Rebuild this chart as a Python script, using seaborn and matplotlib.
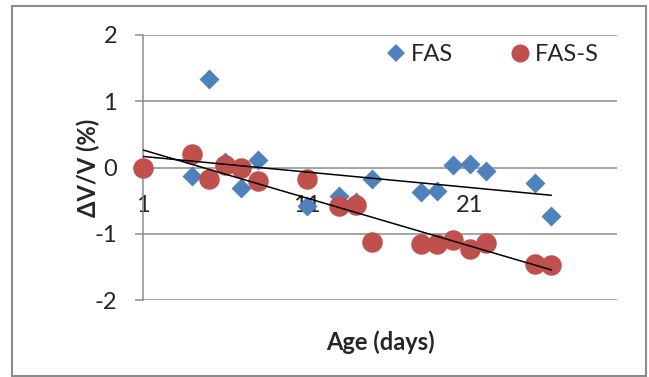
import numpy as np
import pandas as pd
import matplotlib
matplotlib.use("Agg")
import matplotlib.pyplot as plt
import seaborn as sns
from matplotlib.lines import Line2D
from matplotlib.patches import Rectangle

# Age of the specimens (days) and relative change in volume (%)
days = [1, 4, 5, 6, 7, 8, 11, 13, 14, 15, 18, 19, 20, 21, 22, 25, 26]
fas = [0.00, -0.13, 1.33, 0.08, -0.31, 0.11, -0.58, -0.43, -0.52, -0.18,
       -0.37, -0.36, 0.04, 0.05, -0.05, -0.23, -0.73]
fas_s = [0.00, 0.20, -0.17, 0.04, -0.01, -0.21, -0.17, -0.58, -0.57, -1.13,
         -1.16, -1.16, -1.09, -1.23, -1.14, -1.45, -1.47]

series_names = ["FAS", "FAS-S"]
x_ticks = [1, 11, 21]
y_ticks = [-2, -1, 0, 1, 2]

BLUE = "#4F81BD"
RED = "#C0504D"
GRID = "#8C8C8C"

df = pd.DataFrame({
    "Age": days * 2,
    "dV": fas + fas_s,
    "series": [series_names[0]] * len(days) + [series_names[1]] * len(days),
})

sns.set_style("white")
plt.rcParams["font.family"] = ["Lato", "DejaVu Sans"]
plt.rcParams["axes.unicode_minus"] = False
FS = 17

fig = plt.figure(figsize=(6.49, 3.77), dpi=100)
ax = fig.add_axes([0.2208, 0.2042, 0.7294, 0.7030])

# horizontal gridlines behind the markers
for yv in y_ticks:
    ax.axhline(yv, color=GRID, lw=1.1, zorder=0.5)

sns.scatterplot(data=df[df.series == "FAS"], x="Age", y="dV", marker="D",
                s=104, color=BLUE, linewidth=0, ax=ax, clip_on=False,
                zorder=2, legend=False)
sns.scatterplot(data=df[df.series == "FAS-S"], x="Age", y="dV", marker="o",
                s=218, color=RED, linewidth=0, ax=ax, clip_on=False,
                zorder=3, legend=False)

# linear trend lines
for vals in (fas, fas_s):
    sns.regplot(x=np.array(days), y=np.array(vals), scatter=False, ci=None,
                truncate=True, color="black",
                line_kws={"lw": 1.1, "zorder": 4}, ax=ax)

ax.set_xlim(1, 30)
ax.set_ylim(-2, 2)
ax.set_xticks(x_ticks)
ax.set_yticks(y_ticks)
ax.set_xticklabels([str(t) for t in x_ticks])
ax.set_yticklabels([str(t) for t in y_ticks])

ax.spines["bottom"].set_position(("data", 0))
ax.spines["bottom"].set_visible(False)
ax.spines["top"].set_visible(False)
ax.spines["right"].set_visible(False)
ax.spines["left"].set_color(GRID)
ax.spines["left"].set_linewidth(1.1)

ax.tick_params(axis="y", length=5.8, width=1.1, color=GRID, pad=13,
               labelsize=FS, direction="out", left=True)
ax.tick_params(axis="x", length=0, pad=20, labelsize=FS)

ax.set_xlabel("Age (days)", fontsize=FS, fontweight="bold", va="center")
ax.set_ylabel("ΔV/V (%)", fontsize=FS, fontweight="bold", va="center")
ax.xaxis.set_label_coords(0.5, -0.158)
ax.yaxis.set_label_coords(-0.117, 0.5)

handles = [
    Line2D([], [], ls="none", marker="D", ms=9.0, color=BLUE, mew=0),
    Line2D([], [], ls="none", marker="o", ms=13, color=RED, mew=0),
]
ax.legend(handles, series_names, ncol=2, frameon=False, fontsize=FS,
          loc="center left", bbox_to_anchor=(0.5085, 0.9245),
          borderpad=0, borderaxespad=0, handlelength=1.0,
          handletextpad=0.15, columnspacing=2.3)

# chart border
fig.add_artist(Rectangle((12 / 649, 1.5 / 377), 634 / 649, 370 / 377,
                         transform=fig.transFigure, fill=False,
                         ec=GRID, lw=1.5))

fig.savefig("out.png", dpi=100)
